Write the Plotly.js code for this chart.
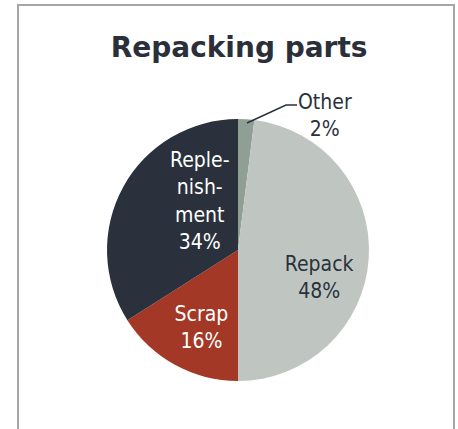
<!DOCTYPE html>
<html><head><meta charset="utf-8">
<script src="https://cdn.plot.ly/plotly-3.0.1.min.js"></script>
<style>
html,body{margin:0;padding:0;background:#fff;}
#frame{position:absolute;left:17px;top:4px;width:438px;height:440px;border:2px solid #a6a6a6;box-sizing:border-box;}
#chart{position:absolute;left:0;top:0;width:458px;height:429px;}
</style></head>
<body>
<div id="frame"></div>
<div id="chart"></div>
<script>
const categories = ["Other", "Repack", "Scrap", "Replenishment"];
const values = [2, 48, 16, 34];
const labelText = ["Other", "Repack", "Scrap", "Reple-<br>nish-<br>ment"];
const colors = ["#8f9f93", "#bfc6c1", "#a33826", "#2a313c"];

// label placement tweaks (not data): padding lines above and left indent per slice
const NB = "\u00a0";
const padTop = [0, 2, 0, 0];
const indentCount = [0, 6, 2, 0];
// slices whose label is drawn as a separate annotation
const annotated = [true, false, false, true];

const fullLabel = i => labelText[i] + "<br>" + values[i] + "%";

const texts = values.map((v, i) => {
  if (annotated[i]) return "";
  const ind = NB.repeat(indentCount[i]);
  const lines = fullLabel(i).split("<br>").map(s => ind + s);
  const top = Array(padTop[i]).fill(NB);
  return top.concat(lines).join("<br>");
});

const labelFont = "DejaVu Sans Condensed, DejaVu Sans";

const trace = {
  type: "pie",
  labels: categories,
  values: values,
  text: texts,
  textinfo: "text",
  textposition: annotated.map(a => a ? "none" : "inside"),
  insidetextorientation: "horizontal",
  sort: false,
  direction: "clockwise",
  rotation: 0,
  marker: {colors: colors, line: {width: 0}},
  textfont: {family: labelFont, size: 21, color: ["#2a313c", "#2a313c", "#ffffff", "#ffffff"]},
  hoverinfo: "none",
  showlegend: false,
  domain: {x: [0.2336, 0.8057], y: [0.1119, 0.7226]}
};

const layout = {
  width: 458, height: 429,
  margin: {l: 0, r: 0, t: 0, b: 0},
  paper_bgcolor: "rgba(0,0,0,0)",
  plot_bgcolor: "rgba(0,0,0,0)",
  title: {text: "<b>Repacking parts</b>", x: 0.522, xanchor: "center", y: 0.89, yanchor: "middle",
          font: {family: "DejaVu Sans", size: 28, color: "#2a2f3a"}},
  showlegend: false,
  annotations: [
    {
      xref: "paper", yref: "paper",
      x: 325/458, y: 1 - 116/429, xanchor: "center", yanchor: "middle",
      text: fullLabel(0),
      showarrow: false, align: "center",
      font: {family: labelFont, size: 21, color: "#2a313c"}
    },
    {
      xref: "paper", yref: "paper",
      x: 200/458, y: 1 - 201/429, xanchor: "center", yanchor: "middle",
      text: fullLabel(3),
      showarrow: false, align: "center",
      font: {family: labelFont, size: 21, color: "#ffffff"}
    }
  ],
  shapes: [{
    type: "path", xref: "paper", yref: "paper",
    path: "M " + (247/458) + " " + (1-123/429) + " L " + (286/458) + " " + (1-105/429) + " L " + (297/458) + " " + (1-105/429),
    line: {color: "#2a313c", width: 1.5}
  }]
};

Plotly.newPlot("chart", [trace], layout, {displayModeBar: false, staticPlot: true});
</script>
</body></html>
